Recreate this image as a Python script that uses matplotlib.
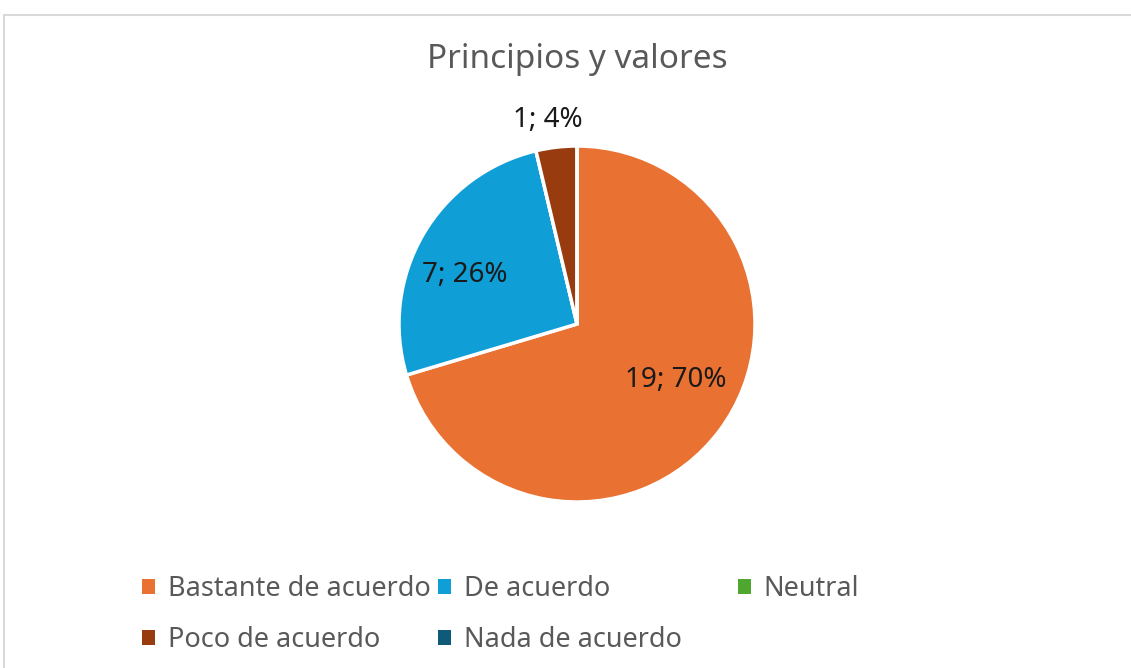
import numpy as np
import matplotlib
matplotlib.use("Agg")
import matplotlib.pyplot as plt
from matplotlib.patches import Rectangle, Patch

plt.rcParams['font.family'] = ['Noto Sans', 'DejaVu Sans']

# datos
categorias = ["Bastante de acuerdo", "De acuerdo", "Neutral", "Poco de acuerdo", "Nada de acuerdo"]
valores = [19, 7, 0, 1, 0]
colores = ["#E97132", "#0F9ED5", "#4EA72E", "#983C0F", "#0E5A78"]
titulo = "Principios y valores"

W, H = 1131, 668
fig = plt.figure(figsize=(W / 100, H / 100), dpi=100)
fig.patch.set_facecolor("white")

# marco gris del grafico
fig.patches.append(Rectangle((4 / W, -0.1), 1.2, (H - 15) / H + 0.1,
                             transform=fig.transFigure, fill=False,
                             edgecolor="#D9D9D9", linewidth=1.5))

# pie: centro ~(577, 324), radio ~178 px
r = 178
cx, cy = 577, 324
ax = fig.add_axes([(cx - r) / W, (H - cy - r) / H, 2 * r / W, 2 * r / H])
wedges, _ = ax.pie(valores, colors=colores, startangle=90, counterclock=False,
                   radius=1.0, wedgeprops=dict(edgecolor="white", linewidth=2.5))
ax.set_xlim(-1, 1)
ax.set_ylim(-1, 1)
ax.set_aspect("equal")
ax.axis("off")

total = sum(valores)
# posicion de la etiqueta por sector: (distancia en radios, giro en grados)
pos = {0: (0.64, 7), 1: (0.69, 6.5), 3: (1.16, 1.5)}
for i, w in enumerate(wedges):
    if valores[i] == 0:
        continue
    d, giro = pos[i]
    ang = np.deg2rad((w.theta1 + w.theta2) / 2 + giro)
    pct = round(valores[i] / total * 100)
    ax.text(d * np.cos(ang), d * np.sin(ang), f"{valores[i]}; {pct}%",
            ha="center", va="center", fontsize=20, color="#1A1A1A", clip_on=False)

fig.text(cx / W, 1 - 60 / H, titulo, ha="center", va="center",
         fontsize=24, color="#595959")

# leyenda en tres columnas con posiciones fijas
columnas = [[0, 3], [1, 4], [2]]
xs = [141, 437, 737]
for col, x in zip(columnas, xs):
    handles = [Patch(facecolor=colores[i], edgecolor="none") for i in col]
    labels = [categorias[i] for i in col]
    leg = fig.legend(handles, labels, loc="upper left",
                     bbox_to_anchor=((x - 10) / W, 1 - 564 / H),
                     frameon=False, fontsize=19.5, handlelength=0.5, handleheight=0.5,
                     handletextpad=0.45, labelspacing=0.85, borderaxespad=0,
                     labelcolor="#595959")

fig.savefig("out.png", dpi=100)
